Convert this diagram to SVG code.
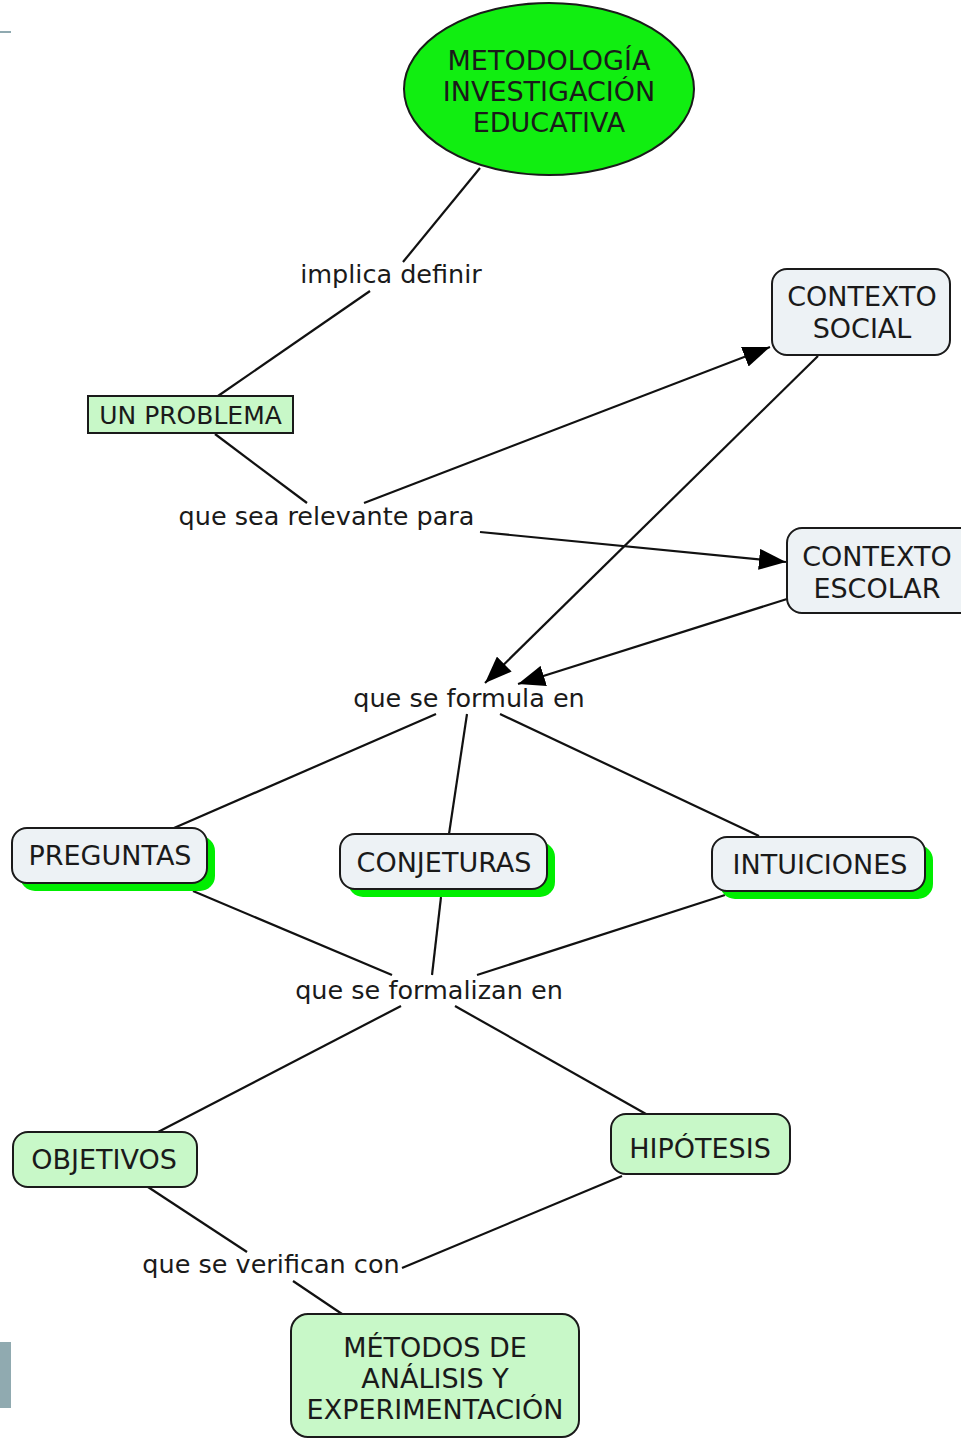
<svg xmlns="http://www.w3.org/2000/svg" width="961" height="1440" viewBox="0 0 961 1440">
<style>
text{font-family:"DejaVu Sans","Liberation Sans",sans-serif;font-size:25.5px;fill:#1a1a1a;text-anchor:middle}
.n{font-size:27px}
.ln{stroke:#111;stroke-width:2.2;fill:none}
.box{stroke:#1a1a1a;stroke-width:2}
.gray{fill:#edf2f5}
.lg{fill:#c8f8c8}
.sh{fill:#00ee00}
</style>
<defs>
<marker id="ah" viewBox="0 0 27 21" refX="27" refY="10.5" markerWidth="27" markerHeight="21" markerUnits="userSpaceOnUse" orient="auto">
<path d="M0,0 L27,10.5 L0,21 Z" fill="#000"/>
</marker>
</defs>
<rect width="961" height="1440" fill="#fff"/>
<line x1="0" y1="32" x2="11" y2="32" stroke="#8fa9b0" stroke-width="2"/>
<rect x="0" y="1342" width="11" height="66" fill="#90aab0"/>
<g id="connectors">
<line class="ln" x1="480" y1="168" x2="403" y2="262"/>
<line class="ln" x1="370" y1="291" x2="218" y2="396"/>
<line class="ln" x1="215" y1="434" x2="307" y2="503"/>
<line class="ln" x1="364" y1="503" x2="770" y2="347" marker-end="url(#ah)"/>
<line class="ln" x1="480" y1="532" x2="786" y2="562" marker-end="url(#ah)"/>
<line class="ln" x1="818" y1="356" x2="485" y2="683" marker-end="url(#ah)"/>
<line class="ln" x1="787" y1="599" x2="518" y2="684" marker-end="url(#ah)"/>
<line class="ln" x1="436" y1="714" x2="174" y2="828"/>
<line class="ln" x1="467" y1="714" x2="449" y2="834"/>
<line class="ln" x1="500" y1="714" x2="759" y2="836"/>
<line class="ln" x1="193" y1="891" x2="392" y2="975"/>
<line class="ln" x1="441" y1="897" x2="432" y2="975"/>
<line class="ln" x1="725" y1="895" x2="477" y2="975"/>
<line class="ln" x1="401" y1="1006" x2="158" y2="1132"/>
<line class="ln" x1="455" y1="1006" x2="646" y2="1114"/>
<line class="ln" x1="148" y1="1187" x2="247" y2="1252"/>
<line class="ln" x1="622" y1="1176" x2="402" y2="1268"/>
<line class="ln" x1="293" y1="1281" x2="342" y2="1314"/>
<text x="391" y="283">implica definir</text>
<text x="326.5" y="525">que sea relevante para</text>
<text x="469" y="707">que se formula en</text>
<text x="429" y="999">que se formalizan en</text>
<text x="271" y="1273">que se verifican con</text>
</g>
<g id="metodologia">
<ellipse cx="549" cy="89" rx="145" ry="86" fill="#11ee11" class="box"/>
<text class="n" x="549" y="70">METODOLOGÍA</text>
<text class="n" x="549" y="101">INVESTIGACIÓN</text>
<text class="n" x="549" y="132">EDUCATIVA</text>
</g>
<g id="un-problema">
<rect x="88" y="396" width="205" height="37" class="box lg"/>
<text x="190.5" y="424" style="font-size:25px">UN PROBLEMA</text>
</g>
<g id="contexto-social">
<rect x="772" y="269" width="178" height="86" rx="15" class="box gray"/>
<text class="n" x="862" y="306">CONTEXTO</text>
<text class="n" x="862" y="338">SOCIAL</text>
</g>
<g id="contexto-escolar">
<rect x="787" y="528" width="188" height="85" rx="15" class="box gray"/>
<text class="n" x="877" y="566">CONTEXTO</text>
<text class="n" x="877" y="598">ESCOLAR</text>
</g>
<g id="preguntas">
<rect x="20" y="836" width="195" height="55" rx="15" class="sh"/>
<rect x="12" y="828" width="195" height="55" rx="15" class="box gray"/>
<text class="n" x="110" y="865">PREGUNTAS</text>
</g>
<g id="conjeturas">
<rect x="348" y="842" width="207" height="55" rx="15" class="sh"/>
<rect x="340" y="834" width="207" height="55" rx="15" class="box gray"/>
<text class="n" x="444" y="872">CONJETURAS</text>
</g>
<g id="intuiciones">
<rect x="720" y="845" width="213" height="54" rx="15" class="sh"/>
<rect x="712" y="837" width="213" height="54" rx="15" class="box gray"/>
<text class="n" x="820" y="874">INTUICIONES</text>
</g>
<g id="objetivos">
<rect x="13" y="1132" width="184" height="55" rx="15" class="box lg"/>
<text class="n" x="104" y="1169">OBJETIVOS</text>
</g>
<g id="hipotesis">
<rect x="611" y="1114" width="179" height="60" rx="15" class="box lg"/>
<text class="n" x="700" y="1158">HIPÓTESIS</text>
</g>
<g id="metodos">
<rect x="291" y="1314" width="288" height="123" rx="17" class="box lg"/>
<text class="n" x="435" y="1357">MÉTODOS DE</text>
<text class="n" x="435" y="1388">ANÁLISIS Y</text>
<text class="n" x="435" y="1419">EXPERIMENTACIÓN</text>
</g>
</svg>
